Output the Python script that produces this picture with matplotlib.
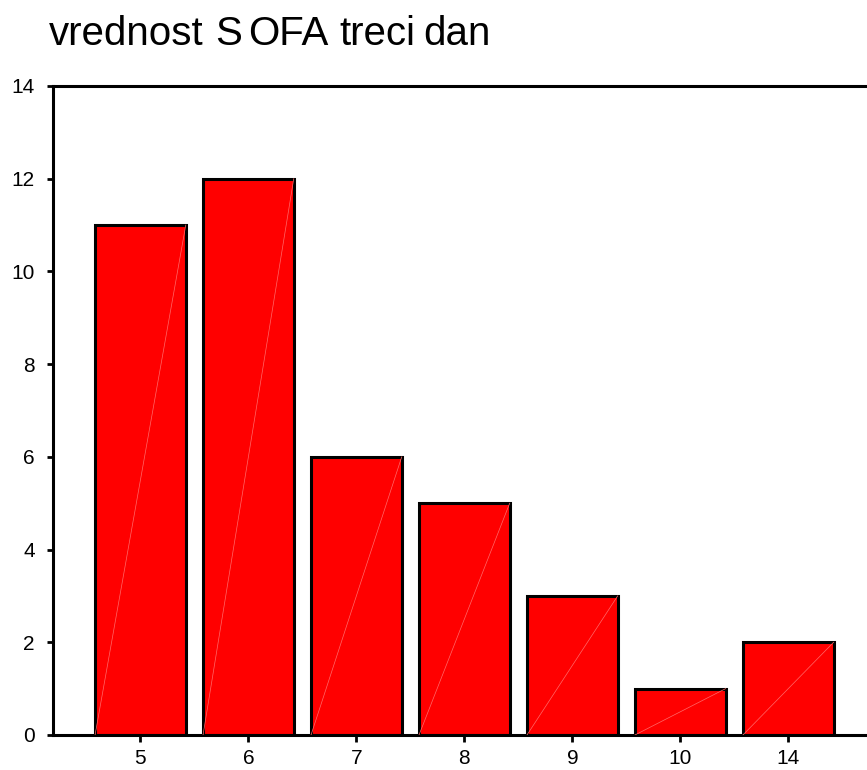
import numpy as np
import matplotlib.pyplot as plt

plt.rcParams['font.family'] = ['Liberation Sans', 'DejaVu Sans']

# vrednost SOFA treci dan - frekvencije
categories = ['5', '6', '7', '8', '9', '10', '14']
counts = [11, 12, 6, 5, 3, 1, 2]
y_ticks = [0, 2, 4, 6, 8, 10, 12, 14]

# naslov: reci su u originalu razmaknute, pa ih crtamo posebno
title_words = ['vrednost', 'S', 'OFA', 'treci', 'dan']
title_x_px = [49, 215, 248, 339, 423]

W, H = 867, 770
fig = plt.figure(figsize=(W / 100, H / 100), dpi=100)
ax = fig.add_axes([0.0611, 0.0455, 0.949, 0.8429])

x = np.arange(len(categories))
width = 0.84
ax.bar(x, counts, width=width, color='#ff0000', edgecolor='black', linewidth=2.2, zorder=2)

# tanka dijagonala u svakom stubu (kao u originalu)
for xi, c in zip(x, counts):
    ax.plot([xi - width / 2, xi + width / 2], [0, c], color='#ff6a6a', lw=0.5, zorder=3)

ax.set_xlim(-0.81, 6.81)
ax.set_ylim(0, 14)
ax.set_xticks(x)
ax.set_xticklabels(categories)
ax.set_yticks(y_ticks)

for side in ['left', 'top', 'bottom', 'right']:
    ax.spines[side].set_linewidth(2.2)
ax.tick_params(axis='both', direction='out', width=2, labelsize=15)
ax.tick_params(axis='y', length=4, pad=9)
ax.tick_params(axis='x', length=5, pad=5)

for word, px in zip(title_words, title_x_px):
    fig.text(px / W, 1 - 45 / H, word, fontsize=29, ha='left', va='baseline')

plt.savefig('out.png', dpi=100)
